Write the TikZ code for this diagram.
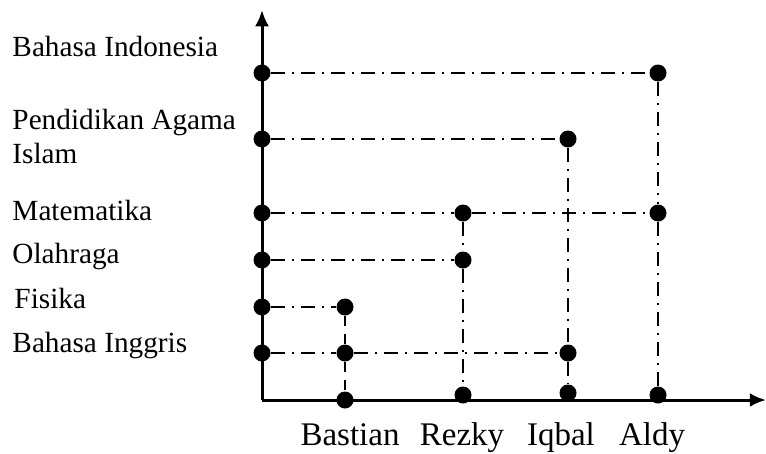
\documentclass[tikz,border=0pt]{standalone}
\usepackage{fontspec}
\setmainfont{Liberation Serif}
\usetikzlibrary{arrows.meta}
\tikzset{>={Latex[length=6.5pt,width=5.6pt]}}

\begin{document}
\begin{tikzpicture}[x=0.4pt, y=-0.4pt,
        font=\fontsize{11.7}{13.3}\selectfont,
        dot/.style={circle, fill, inner sep=0pt, minimum size=6.8pt},
        axis/.style={line width=1.2pt},
        guide/.style={line width=0.8pt, dash pattern=on 5.6pt off 2.8pt on 0.8pt off 2.8pt},
        guidedash/.style={line width=0.8pt, dash pattern=on 4pt off 3pt},
        subj/.style={anchor=base west, align=left, inner sep=0pt},
        student/.style={anchor=base, inner sep=0pt, font=\fontsize{13.2}{15}\selectfont}]
    \useasboundingbox (0,0) rectangle (766,453);
    % axes
    \coordinate (o) at (262,400);
    \coordinate (ytop) at (262,10);
    \coordinate (xend) at (766,400);
    \draw[axis,->] (o) -- (ytop);
    \draw[axis,->] (o) -- (xend);
    % subjects on the vertical axis
    \node[dot] (bi)  at (262,73)  {};
    \node[dot] (pai) at (262,139) {};
    \node[dot] (mat) at (262,213) {};
    \node[dot] (olr) at (262,260) {};
    \node[dot] (fis) at (262,307) {};
    \node[dot] (ing) at (262,353) {};
    \node[subj] (lbi)  at (12,56)  {Bahasa Indonesia};
    \node[subj] (lpai) at (12,163) {Pendidikan Agama\\Islam};
    \node[subj] (lmat) at (12,220) {Matematika};
    \node[subj] (lolr) at (12,263) {Olahraga};
    \node[subj] (lfis) at (14,308) {Fisika};
    \node[subj] (ling) at (12,352) {Bahasa Inggris};
    % students on the horizontal axis
    \node[dot] (bas) at (345,400) {};
    \node[dot] (rez) at (463,395) {};
    \node[dot] (iqb) at (568,393) {};
    \node[dot] (ald) at (658,395) {};
    \node[student] (lbas) at (350,445) {Bastian};
    \node[student] (lrez) at (462,445) {Rezky};
    \node[student] (liqb) at (561,445) {Iqbal};
    \node[student] (lald) at (652,445) {Aldy};
    % pairs
    \node[dot] (basfis) at (345,307) {};
    \node[dot] (basing) at (345,353) {};
    \node[dot] (rezmat) at (463,213) {};
    \node[dot] (rezolr) at (463,260) {};
    \node[dot] (iqbpai) at (568,139) {};
    \node[dot] (iqbing) at (568,353) {};
    \node[dot] (aldbi)  at (658,73)  {};
    \node[dot] (aldmat) at (658,213) {};
    % guide lines
    \draw[guide] (bi) -- (aldbi);
    \draw[guide] (pai) -- (iqbpai);
    \draw[guide] (mat) -- (rezmat) -- (aldmat);
    \draw[guide] (olr) -- (rezolr);
    \draw[guide] (fis) -- (basfis);
    \draw[guide] (ing) -- (basing) -- (iqbing);
    \draw[guidedash] (basfis) -- (basing) -- (bas);
    \draw[guide] (rezmat) -- (rezolr) -- (rez);
    \draw[guide] (iqbpai) -- (iqbing) -- (iqb);
    \draw[guide] (aldbi) -- (aldmat) -- (ald);
\end{tikzpicture}
\end{document}
